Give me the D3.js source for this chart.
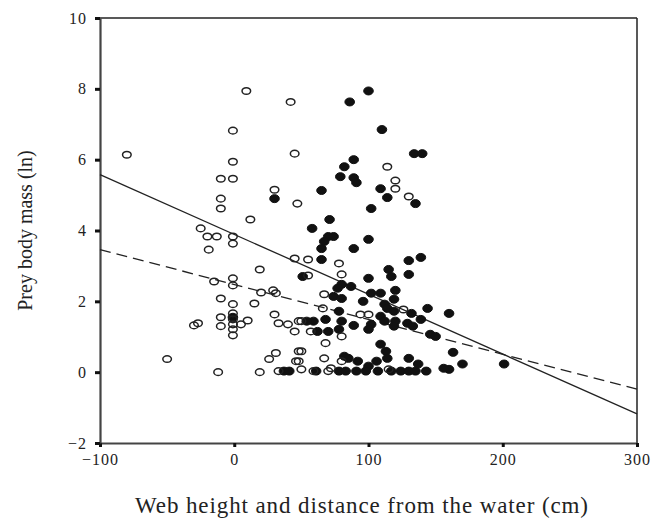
<!DOCTYPE html>
<html>
<head>
<meta charset="utf-8">
<script src="https://cdn.jsdelivr.net/npm/d3@7"></script>
<style>
  body { margin: 0; background: #fff; }
  svg { font-family: "Liberation Serif", "DejaVu Serif", serif; }
</style>
</head>
<body>
<div id="chart"></div>
<script>
// open circles (one group), [cm, ln mass]
const openPoints = [
  [-80, 6.14], [9, 7.94], [42, 7.63], [-1, 6.82], [-1, 5.94], [-10, 5.46], [-1, 5.46],
  [-10, 4.9], [-10, 4.62], [12, 4.31], [-25, 4.06], [-20, 3.83], [-13, 3.83], [-1, 3.83],
  [-1, 3.63], [-19, 3.46], [30, 5.15], [45, 6.17], [47, 4.76], [45, 3.21], [114, 5.8],
  [120, 5.41], [120, 5.18], [130, 4.96], [19, 2.9], [-15, 2.56], [-1, 2.65], [-1, 2.45],
  [-10, 2.08], [-1, 1.92], [15, 1.94], [20, 2.25], [29, 2.31], [31, 2.23], [-50, 0.37],
  [-30, 1.32], [-27, 1.38], [-12, 0], [19, 0], [-10, 1.55], [-10, 1.3], [-1, 1.66],
  [-1, 1.49], [-1, 1.35], [-1, 1.21], [-1, 1.04], [5, 1.35], [10, 1.46], [30, 1.63],
  [33, 1.38], [40, 1.35], [45, 1.15], [48, 1.44], [26, 0.37], [31, 0.54], [33, 0.03],
  [48, 0.59], [48, 0.31], [55, 3.18], [78, 3.07], [55, 2.73], [80, 2.76], [67, 2.2],
  [66, 1.8], [94, 1.63], [50, 1.44], [57, 1.15], [80, 1.01], [68, 0.82], [50, 0.59],
  [67, 0.39], [46, 0.31], [50, 0.08], [72, 0.11], [80, 0.31], [59, 0.03], [70, 0.03],
  [126, 1.77], [100, 1.63], [115, 0.08]
];

// filled circles (other group)
const filledPoints = [
  [100, 7.94], [86, 7.63], [110, 6.85], [134, 6.17], [140, 6.17], [89, 6.0], [82, 5.8],
  [79, 5.52], [89, 5.49], [91, 5.35], [65, 5.13], [30, 4.9], [109, 5.18], [114, 4.93],
  [135, 4.76], [102, 4.62], [71, 4.31], [58, 4.06], [70, 3.83], [74, 3.83], [67, 3.69],
  [65, 3.49], [100, 3.75], [89, 3.49], [139, 3.24], [130, 3.15], [65, 3.18], [130, 2.76],
  [115, 2.9], [117, 2.7], [51, 2.7], [100, 2.65], [80, 2.48], [87, 2.42], [77, 2.37],
  [74, 2.14], [80, 2.08], [102, 2.23], [96, 2.0], [120, 2.31], [109, 2.23], [112, 1.92],
  [119, 2.06], [114, 1.8], [119, 1.72], [132, 1.66], [144, 1.8], [160, 1.66], [78, 1.72],
  [109, 1.58], [112, 1.44], [59, 1.44], [68, 1.49], [80, 1.44], [89, 1.32], [102, 1.35],
  [120, 1.44], [129, 1.38], [139, 1.49], [54, 1.44], [62, 1.15], [70, 1.15], [78, 1.21],
  [100, 1.21], [146, 1.07], [150, 1.01], [109, 0.79], [113, 0.59], [114, 0.39], [85, 0.39],
  [92, 0.31], [100, 0.17], [106, 0.31], [130, 0.39], [137, 0.23], [163, 0.56], [170, 0.23],
  [160, 0.08], [201, 0.23], [156, 0.11], [119, 1.3], [133, 1.3], [82, 0.45], [-1, 1.55],
  [37, 0.03], [41, 0.03], [61, 0.03], [78, 0.03], [83, 0.03], [91, 0.03], [98, 0.03],
  [107, 0.03], [117, 0.03], [124, 0.03], [130, 0.03], [135, 0.03], [143, 0.03]
];

// regression lines: [x, y] at both ends of the axis
const solidLine = [[-100, 5.58], [300, -1.18]];
const dashedLine = [[-100, 3.46], [300, -0.48]];

const xTicks = [-100, 0, 100, 200, 300];
const yTicks = [-2, 0, 2, 4, 6, 8, 10];

const width = 651, height = 525;
const svg = d3.select("#chart").append("svg")
  .attr("width", width).attr("height", height);

const x = d3.scaleLinear().domain([-100, 300]).range([100, 637]);
const y = d3.scaleLinear().domain([-2, 10]).range([443, 18]);

// frame: top and right
svg.append("line").attr("x1", x(-100)).attr("x2", x(300)).attr("y1", y(10)).attr("y2", y(10))
  .attr("stroke", "#222").attr("stroke-width", 1.5);
svg.append("line").attr("x1", x(300)).attr("x2", x(300)).attr("y1", y(10)).attr("y2", y(-2))
  .attr("stroke", "#222").attr("stroke-width", 1.5);

// axes
const xAxis = svg.append("g").attr("transform", `translate(0,${y(-2)})`)
  .call(d3.axisBottom(x).tickValues(xTicks).tickSize(4).tickSizeOuter(0).tickPadding(7));
const yAxis = svg.append("g").attr("transform", `translate(${x(-100)},0)`)
  .call(d3.axisLeft(y).tickValues(yTicks).tickSize(5).tickSizeOuter(0).tickPadding(8));

[xAxis, yAxis].forEach(a => {
  a.select(".domain").attr("stroke", "#444").attr("stroke-width", 2.2);
  a.selectAll(".tick line").attr("stroke", "#111").attr("stroke-width", 3);
  a.selectAll(".tick text").attr("fill", "#222")
    .style("font-family", "Liberation Serif, serif").style("font-size", "16px")
    .style("letter-spacing", "1px");
});

// regression lines
const line = d3.line().x(d => x(d[0])).y(d => y(d[1]));
svg.append("path").datum(solidLine).attr("d", line)
  .attr("fill", "none").attr("stroke", "#222").attr("stroke-width", 1.3);
svg.append("path").datum(dashedLine).attr("d", line)
  .attr("fill", "none").attr("stroke", "#222").attr("stroke-width", 1.3)
  .attr("stroke-dasharray", "11,6");

// points
svg.append("g").selectAll("ellipse").data(filledPoints).join("ellipse")
  .attr("cx", d => x(d[0])).attr("cy", d => y(d[1]))
  .attr("rx", 4.8).attr("ry", 4)
  .attr("fill", "#111").attr("stroke", "#111").attr("stroke-width", 1);
svg.append("g").selectAll("ellipse").data(openPoints).join("ellipse")
  .attr("cx", d => x(d[0])).attr("cy", d => y(d[1]))
  .attr("rx", 4.3).attr("ry", 3.3)
  .attr("fill", "none").attr("stroke", "#222").attr("stroke-width", 1.5);

// axis titles
svg.append("text")
  .attr("x", 362).attr("y", 513)
  .attr("text-anchor", "middle")
  .style("font-size", "23px").style("letter-spacing", "0.9px").attr("fill", "#222")
  .text("Web height and distance from the water (cm)");
svg.append("text")
  .attr("transform", `translate(32,${(y(10) + y(-2)) / 2}) rotate(-90)`)
  .attr("text-anchor", "middle")
  .style("font-size", "20px").attr("fill", "#222")
  .text("Prey body mass (ln)");
</script>
</body>
</html>
